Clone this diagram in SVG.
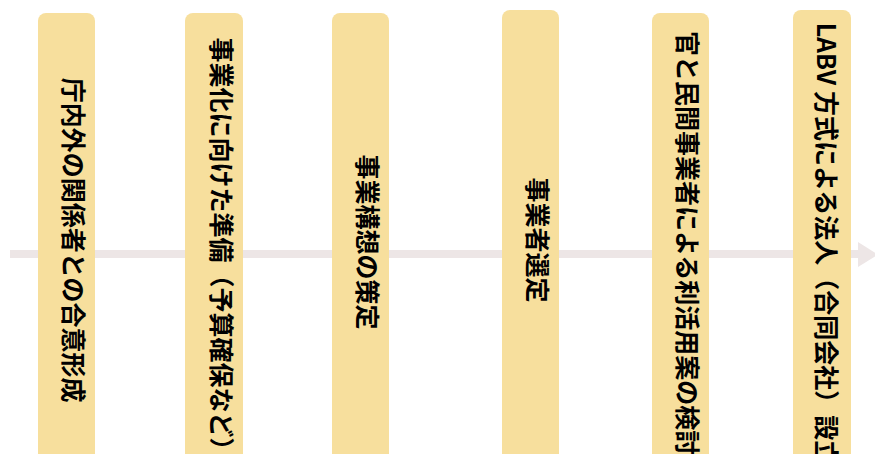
<svg xmlns="http://www.w3.org/2000/svg" width="875" height="454" viewBox="0 0 875 454">
<style>
.box{fill:#f7df9d;}
.lbl{font-family:"Noto Sans CJK JP","Noto Sans",sans-serif;font-size:25px;font-weight:700;fill:#000;text-anchor:middle;dominant-baseline:central;}
.conn{stroke:#ede6e6;stroke-width:8;fill:none;}
.head{fill:#ede6e6;}
</style>
<g id="connectors">
<line class="conn" x1="10" y1="254" x2="860" y2="254"/>
<polygon class="head" points="858,242 878,254.5 858,267"/>
</g>
<g id="n1">
<rect class="box" x="38" y="13" width="57" height="460" rx="8"/>
<text class="lbl" transform="translate(75,240) rotate(90)">庁内外の関係者との合意形成</text>
</g>
<g id="n2">
<rect class="box" x="185" y="13" width="58" height="460" rx="8"/>
<text class="lbl" transform="translate(223,250) rotate(90)">事業化に向けた準備（予算確保など）</text>
</g>
<g id="n3">
<rect class="box" x="332" y="13" width="57" height="460" rx="8"/>
<text class="lbl" transform="translate(369,242) rotate(90)">事業構想の策定</text>
</g>
<g id="n4">
<rect class="box" x="502" y="10" width="57" height="460" rx="8"/>
<text class="lbl" transform="translate(539,240) rotate(90)">事業者選定</text>
</g>
<g id="n5">
<rect class="box" x="652" y="13" width="57" height="460" rx="8"/>
<text class="lbl" transform="translate(689,243) rotate(90)">官と民間事業者による利活用案の検討</text>
</g>
<g id="n6">
<rect class="box" x="793" y="10" width="58" height="460" rx="8"/>
<text class="lbl" transform="translate(828,244) rotate(90)">LABV 方式による法人（合同会社）設立</text>
</g>
</svg>
